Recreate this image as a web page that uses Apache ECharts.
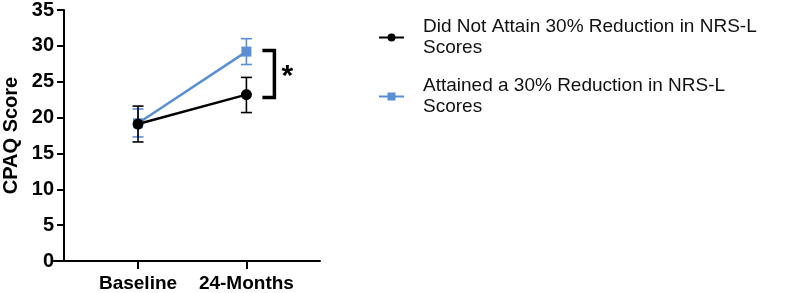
<!DOCTYPE html>
<html>
<head>
<meta charset="utf-8">
<script src="https://cdn.jsdelivr.net/npm/echarts@6/dist/echarts.min.js"></script>
<style>
  html, body { margin: 0; padding: 0; background: #fff; }
  #chart { width: 785px; height: 293px; }
</style>
</head>
<body>
<div id="chart"></div>
<script>
// timepoints (x positions 1 and 2)
var categories = ['Baseline', '24-Months'];

// means and SEM bounds
var notAttainMean = [19.1, 23.2];
var notAttainLow = [16.6, 20.7];
var notAttainHigh = [21.6, 25.6];

var attainMean = [19.2, 29.2];
var attainLow = [17.3, 27.4];
var attainHigh = [21.2, 31.0];

// significance bracket span (y values)
var bracketSpan = [22.8, 29.35];

var yTicks = [0, 5, 10, 15, 20, 25, 30, 35];

var BLACK = '#000000';
var BLUE = '#5b8fd5';
var FONT = 'Liberation Sans, Arial, sans-serif';

var chart = echarts.init(document.getElementById('chart'));

function pts(arr) {
  return arr.map(function (v, i) { return [i + 1, v]; });
}

function errData(low, high) {
  return low.map(function (v, i) { return [i + 1, v, high[i]]; });
}

function errorBars(color) {
  return function (params, api) {
    var lo = api.coord([api.value(0), api.value(1)]);
    var hi = api.coord([api.value(0), api.value(2)]);
    var w = 5.5;
    var style = { stroke: color, lineWidth: 1.6 };
    return {
      type: 'group',
      children: [
        { type: 'line', shape: { x1: lo[0], y1: lo[1], x2: hi[0], y2: hi[1] }, style: style },
        { type: 'line', shape: { x1: lo[0] - w, y1: lo[1], x2: lo[0] + w, y2: lo[1] }, style: style },
        { type: 'line', shape: { x1: hi[0] - w, y1: hi[1], x2: hi[0] + w, y2: hi[1] }, style: style }
      ]
    };
  };
}

var option = {
  animation: false,
  grid: {
    left: 52,
    right: 465,
    top: 7.3,
    bottom: 31.3
  },
  legend: {
    orient: 'vertical',
    left: 378,
    top: 16.5,
    padding: 0,
    itemWidth: 25,
    itemHeight: 10,
    itemGap: 17,
    data: ['notAttain', 'attain'],
    formatter: function (name) {
      return name === 'notAttain'
        ? 'Did Not Attain 30% Reduction in NRS-L\nScores'
        : 'Attained a 30% Reduction in NRS-L\nScores';
    },
    textStyle: {
      fontFamily: FONT,
      fontSize: 19,
      color: '#111',
      lineHeight: 21,
      padding: [0, 0, 0, 14]
    }
  },
  xAxis: {
    type: 'value',
    min: 0.2202,
    max: 2.679,
    splitLine: { show: false },
    axisLine: { lineStyle: { color: BLACK, width: 2 } },
    axisTick: { customValues: [1, 2], length: 8, lineStyle: { color: BLACK, width: 2 } },
    axisLabel: {
      customValues: [1, 2],
      formatter: function (v) { return categories[Math.round(v) - 1]; },
      fontFamily: FONT,
      fontWeight: 'bold',
      fontSize: 19,
      color: BLACK,
      margin: 13
    }
  },
  yAxis: {
    type: 'value',
    min: 0,
    max: 35,
    interval: 5,
    offset: -10.5,
    name: 'CPAQ Score',
    nameLocation: 'middle',
    nameGap: 43,
    nameTextStyle: {
      fontFamily: FONT,
      fontWeight: 'bold',
      fontSize: 20,
      color: BLACK
    },
    splitLine: { show: false },
    axisLine: { show: true, lineStyle: { color: BLACK, width: 2 } },
    axisTick: { show: true, length: 7, lineStyle: { color: BLACK, width: 2 } },
    axisLabel: {
      formatter: function (v) { return yTicks.indexOf(v) >= 0 ? String(v) : ''; },
      fontFamily: FONT,
      fontWeight: 'bold',
      fontSize: 20,
      color: BLACK,
      margin: 10
    }
  },
  series: [
    {
      name: 'attain_err',
      type: 'custom',
      renderItem: errorBars(BLUE),
      data: errData(attainLow, attainHigh),
      z: 2
    },
    {
      name: 'attain',
      type: 'line',
      data: pts(attainMean),
      symbol: 'rect',
      symbolSize: 10,
      color: BLUE,
      lineStyle: { color: BLUE, width: 2.5 },
      itemStyle: { color: BLUE },
      z: 3
    },
    {
      name: 'notAttain_err',
      type: 'custom',
      renderItem: errorBars(BLACK),
      data: errData(notAttainLow, notAttainHigh),
      z: 4
    },
    {
      name: 'notAttain',
      type: 'line',
      data: pts(notAttainMean),
      symbol: 'circle',
      symbolSize: 11,
      color: BLACK,
      lineStyle: { color: BLACK, width: 2.5 },
      itemStyle: { color: BLACK },
      z: 5
    },
    {
      name: 'bracket',
      type: 'custom',
      data: [[2, bracketSpan[0], bracketSpan[1]]],
      renderItem: function (params, api) {
        var bot = api.coord([api.value(0), api.value(1)]);
        var top = api.coord([api.value(0), api.value(2)]);
        var x0 = bot[0] + 16;
        var x1 = bot[0] + 28;
        return {
          type: 'group',
          children: [
            {
              type: 'polyline',
              shape: { points: [[x0, top[1]], [x1, top[1]], [x1, bot[1]], [x0, bot[1]]] },
              style: { stroke: BLACK, lineWidth: 3.5, fill: null }
            },
            {
              type: 'text',
              x: x1 + 13,
              y: (top[1] + bot[1]) / 2 + 3,
              style: {
                text: '*',
                fontFamily: FONT,
                fontWeight: 'bold',
                fontSize: 30,
                fill: BLACK,
                align: 'center',
                verticalAlign: 'middle'
              }
            }
          ]
        };
      },
      z: 6
    }
  ]
};

chart.setOption(option);
</script>
</body>
</html>
